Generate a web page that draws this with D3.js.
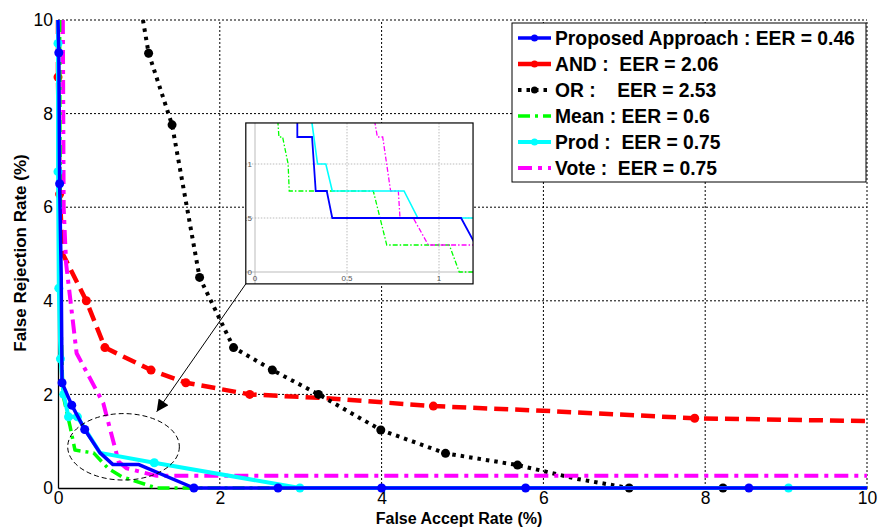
<!DOCTYPE html>
<html>
<head>
<meta charset="utf-8">
<script src="https://cdn.jsdelivr.net/npm/d3@7"></script>
<style>
  body { margin: 0; background: #fff; }
  svg { font-family: Arial, "Liberation Sans", sans-serif; }
</style>
</head>
<body>
<svg id="chart" width="878" height="527"></svg>
<script>
// FAR / FRR curves (percent)
const proposedLine = [[0.0,10],[0.01,9.3],[0.02,6.5],[0.04,4.5],[0.05,2.25],[0.17,1.77],[0.33,1.25],[0.52,0.75],[0.68,0.5],[1.0,0.5],[1.68,0],[2.72,0],[4.0,0],[5.78,0],[8.54,0],[10,0]]
const proposedMarks = [[0.01,9.3],[0.02,6.5],[0.05,2.25],[0.17,1.77],[0.33,1.25],[1.68,0],[2.72,0],[4.0,0],[5.78,0],[8.54,0]]
const andLine = [[0.0,10],[0.0,8.78],[0.02,6.28],[0.06,5.0],[0.35,4.0],[0.58,3.0],[1.15,2.52],[1.58,2.25],[2.37,2.0],[3.3,1.92],[4.64,1.75],[6.0,1.65],[7.87,1.49],[10,1.43]]
const andMarks = [[0.0,8.78],[0.02,6.28],[0.35,4.0],[0.58,3.0],[1.15,2.52],[1.58,2.25],[2.37,2.0],[4.64,1.75],[7.87,1.49]]
const orLine = [[1.05,10],[1.12,9.29],[1.41,7.76],[1.75,4.5],[2.17,3.0],[2.65,2.52],[3.22,2.0],[3.99,1.24],[4.79,0.74],[5.68,0.49],[6.4,0.2],[7.06,0],[8.22,0],[10,0]]
const orMarks = [[1.12,9.29],[1.41,7.76],[1.75,4.5],[2.17,3.0],[2.65,2.52],[3.22,2.0],[3.99,1.24],[4.79,0.74],[5.68,0.49],[7.06,0],[8.22,0]]
const meanLine = [[0.02,10],[0.03,4.0],[0.06,2.0],[0.15,1.31],[0.21,0.81],[0.44,0.75],[0.62,0.42],[0.79,0.24],[1.22,0],[10,0]]
const prodLine = [[0.0,10],[0.0,9.5],[0.0,6.76],[0.01,4.27],[0.03,2.76],[0.07,2.0],[0.13,1.52],[0.24,1.52],[0.52,0.75],[1.19,0.54],[2.99,0],[9.03,0],[10,0]]
const prodMarks = [[0.0,9.5],[0.0,6.76],[0.01,4.27],[0.03,2.76],[0.07,2.0],[0.13,1.52],[0.24,1.52],[1.19,0.54],[2.99,0],[9.03,0]]
const voteLine = [[0.06,10],[0.07,6.0],[0.1,4.8],[0.23,2.88],[0.56,1.81],[0.75,0.56],[0.85,0.42],[1.22,0.26],[10,0.26]]

// zoomed inset (0 .. 1.2 %)
const insetProposed = [[0.23,1.5],[0.23,1.25],[0.31,1.25],[0.33,0.75],[0.39,0.75],[0.42,0.5],[1.12,0.5],[1.19,0.28]]
const insetProd = [[0.30,1.5],[0.34,1.0],[0.385,1.0],[0.42,0.75],[0.81,0.75],[0.885,0.5],[1.19,0.5]]
const insetMean = [[0.12,1.5],[0.13,1.25],[0.15,1.25],[0.18,1.0],[0.186,0.75],[0.643,0.75],[0.716,0.25],[1.056,0.25],[1.11,0],[1.19,0]]
const insetVote = [[0.64,1.5],[0.665,1.25],[0.694,1.25],[0.737,0.75],[0.779,0.75],[0.788,0.5],[0.86,0.5],[0.942,0.25],[1.19,0.25]]

const ticks = [0, 2, 4, 6, 8, 10]
const insetTicks = [0, 0.5, 1]
const legendLabels = ["Proposed Approach : EER = 0.46", "AND :  EER = 2.06", "OR :    EER = 2.53", "Mean : EER = 0.6", "Prod :  EER = 0.75", "Vote :  EER = 0.75"]

let svg = d3.select("#chart")
let x = d3.scaleLinear().domain([0, 10]).range([58, 867])
let y = d3.scaleLinear().domain([0, 10]).range([488, 20])

// grid
let grid = svg.append("g").attr("class", "grid")
grid.selectAll(".gx").data(ticks.slice(1)).enter().append("line")
    .attr("x1", d => x(d)).attr("x2", d => x(d))
    .attr("y1", y(0)).attr("y2", y(10))
    .attr("stroke", "#000").attr("stroke-width", 1).attr("stroke-dasharray", "2,2")
grid.selectAll(".gy").data(ticks.slice(1)).enter().append("line")
    .attr("x1", x(0)).attr("x2", x(10))
    .attr("y1", d => y(d)).attr("y2", d => y(d))
    .attr("stroke", "#000").attr("stroke-width", 1).attr("stroke-dasharray", "2,2")

// axes
svg.append("g")
    .attr("transform", "translate(0," + y(0) + ")")
    .call(d3.axisBottom(x).tickValues(ticks).tickSize(0).tickPadding(4).tickFormat(d3.format("d")))
    .call(g => g.select(".domain").attr("stroke", "#000").attr("stroke-width", 1.3))
    .call(g => g.selectAll("text").attr("font-size", 17.5).attr("fill", "#000"))
svg.append("g")
    .attr("transform", "translate(" + x(0) + ",0)")
    .call(d3.axisLeft(y).tickValues(ticks).tickSize(0).tickPadding(5).tickFormat(d3.format("d")))
    .call(g => g.select(".domain").attr("stroke", "#000").attr("stroke-width", 1.3))
    .call(g => g.selectAll("text").attr("font-size", 17.5).attr("fill", "#000"))

svg.append("text")
    .attr("x", 459).attr("y", 523.5)
    .attr("text-anchor", "middle")
    .attr("font-size", 16).attr("font-weight", "bold")
    .text("False Accept Rate (%)")
svg.append("text")
    .attr("transform", "translate(25.5,253) rotate(-90)")
    .attr("text-anchor", "middle")
    .attr("font-size", 17).attr("font-weight", "bold")
    .text("False Rejection Rate (%)")

// series
let line = d3.line().x(d => x(d[0])).y(d => y(d[1]))
let series = [
    {line: andLine, marks: andMarks, color: "#ff0000", width: 4.5, dash: "14,7"},
    {line: orLine, marks: orMarks, color: "#000000", width: 4, dash: "3.5,5"},
    {line: voteLine, marks: [], color: "#ff00ff", width: 4, dash: "14,6,4,6"},
    {line: meanLine, marks: [], color: "#00ff00", width: 3.5, dash: "12,5,3,5"},
    {line: prodLine, marks: prodMarks, color: "#00ffff", width: 4, dash: null},
    {line: proposedLine, marks: proposedMarks, color: "#0000ff", width: 3.5, dash: null}
]
series.forEach(s => {
    svg.append("path")
        .datum(s.line)
        .attr("d", line)
        .attr("fill", "none")
        .attr("stroke", s.color)
        .attr("stroke-width", s.width)
        .attr("stroke-dasharray", s.dash)
        .attr("stroke-linejoin", "round")
    svg.append("g").selectAll("circle").data(s.marks).enter().append("circle")
        .attr("cx", d => x(d[0])).attr("cy", d => y(d[1]))
        .attr("r", 4.5).attr("fill", s.color)
})

// ellipse around the zoomed region
svg.append("ellipse")
    .attr("cx", x(0.81)).attr("cy", y(0.88))
    .attr("rx", x(0.69) - x(0)).attr("ry", y(0) - y(0.71))
    .attr("fill", "none").attr("stroke", "#000").attr("stroke-width", 1)
    .attr("stroke-dasharray", "5,3")

// inset
let ix = d3.scaleLinear().domain([0, 1]).range([255, 439])
let iy = d3.scaleLinear().domain([0, 1]).range([272, 164])
let inset = svg.append("g").attr("class", "inset")
let ix0 = ix(-0.05), ix1 = ix(1.185), iy0 = iy(1.38), iy1 = iy(-0.11)
svg.append("defs").append("clipPath").attr("id", "insetclip")
    .append("rect").attr("x", ix0).attr("y", iy0).attr("width", ix1 - ix0).attr("height", iy1 - iy0)
svg.select("defs").append("marker")
    .attr("id", "arrow").attr("viewBox", "0 0 10 10")
    .attr("refX", 10).attr("refY", 5)
    .attr("markerWidth", 16).attr("markerHeight", 12)
    .attr("markerUnits", "userSpaceOnUse")
    .attr("orient", "auto")
    .append("path").attr("d", "M0,0 L10,5 L0,10 Z").attr("fill", "#000")

svg.append("line")
    .attr("x1", ix0).attr("y1", iy1)
    .attr("x2", x(1.22)).attr("y2", y(1.63))
    .attr("stroke", "#000").attr("stroke-width", 1)
    .attr("marker-end", "url(#arrow)")

inset.append("rect")
    .attr("x", ix0).attr("y", iy0).attr("width", ix1 - ix0).attr("height", iy1 - iy0)
    .attr("fill", "#fff")
let ig = inset.append("g").attr("clip-path", "url(#insetclip)")
ig.selectAll(".igx").data(insetTicks).enter().append("line")
    .attr("x1", d => ix(d)).attr("x2", d => ix(d)).attr("y1", iy0).attr("y2", iy1)
    .attr("stroke", "#aaa").attr("stroke-width", 0.8).attr("stroke-dasharray", d => d === 0 ? null : "1.5,1.5")
ig.selectAll(".igy").data(insetTicks).enter().append("line")
    .attr("x1", ix0).attr("x2", ix1).attr("y1", d => iy(d)).attr("y2", d => iy(d))
    .attr("stroke", "#aaa").attr("stroke-width", 0.8).attr("stroke-dasharray", d => d === 0 ? null : "1.5,1.5")
ig.selectAll(".itx").data(insetTicks).enter().append("text")
    .attr("x", d => ix(d)).attr("y", iy(0) + 9)
    .attr("text-anchor", "middle").attr("font-size", 8).attr("fill", "#555")
    .text(d => d3.format("")(d))
ig.selectAll(".ity").data(insetTicks).enter().append("text")
    .attr("x", ix(0) - 3).attr("y", d => iy(d) + 3)
    .attr("text-anchor", "end").attr("font-size", 8).attr("fill", "#555")
    .text(d => d3.format("")(d))

let iline = d3.line().x(d => ix(d[0])).y(d => iy(d[1]))
let insetSeries = [
    {line: insetMean, color: "#00ff00", width: 1.3, dash: "5,2,1.5,2"},
    {line: insetVote, color: "#ff00ff", width: 1.3, dash: "5,2,1.5,2"},
    {line: insetProd, color: "#00ffff", width: 1.6, dash: null},
    {line: insetProposed, color: "#0000ff", width: 1.8, dash: null}
]
insetSeries.forEach(s => {
    ig.append("path").datum(s.line).attr("d", iline)
        .attr("fill", "none").attr("stroke", s.color)
        .attr("stroke-width", s.width).attr("stroke-dasharray", s.dash)
})
inset.append("rect")
    .attr("x", ix0).attr("y", iy0).attr("width", ix1 - ix0).attr("height", iy1 - iy0)
    .attr("fill", "none").attr("stroke", "#000").attr("stroke-width", 1.2)

// legend
let legend = svg.append("g").attr("class", "legend")
legend.append("rect")
    .attr("x", 512).attr("y", 23).attr("width", 354).attr("height", 159)
    .attr("fill", "#fff").attr("stroke", "#000").attr("stroke-width", 1)
let legendStyle = [series[5], series[0], series[1], series[3], series[4], series[2]]
let hasMark = [true, true, true, false, true, false]
legendLabels.forEach((label, i) => {
    let s = legendStyle[i]
    let ly = 38 + i * 26
    legend.append("line")
        .attr("x1", 518).attr("x2", 551).attr("y1", ly).attr("y2", ly)
        .attr("stroke", s.color).attr("stroke-width", s.width)
        .attr("stroke-dasharray", s.dash === null ? null : (i === 1 ? null : s.dash))
    if (hasMark[i]) {
        legend.append("circle").attr("cx", 534.5).attr("cy", ly).attr("r", 3.5).attr("fill", s.color)
    }
    legend.append("text")
        .attr("x", 555).attr("y", ly + 7)
        .attr("font-size", 19.3).attr("font-weight", "bold")
        .attr("xml:space", "preserve")
        .style("white-space", "pre")
        .text(label)
})
</script>
</body>
</html>
